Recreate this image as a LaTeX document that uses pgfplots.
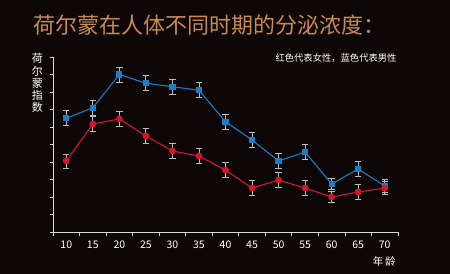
\documentclass[border=0pt]{standalone}
\usepackage{pgfplots}
\pgfplotsset{compat=1.18}
\usepackage{fontspec}
\setmainfont{Noto Sans CJK SC}
\definecolor{bg}{HTML}{0D0807}
\definecolor{titlecol}{HTML}{C98A4E}
\definecolor{axiscol}{HTML}{D8D8D8}
\definecolor{bluec}{HTML}{1E7CC4}
\definecolor{redc}{HTML}{D4152C}
\definecolor{errc}{HTML}{BDBDBD}
\begin{document}
\begin{tikzpicture}
\useasboundingbox (0,0) rectangle (450bp,274bp);
\fill[bg] (0,0) rectangle (450bp,274bp);
\begin{axis}[
  at={(53bp,42bp)}, anchor=south west,
  scale only axis, width=345bp, height=175bp,
  xmin=-0.5, xmax=12.5, ymin=0, ymax=10,
  axis lines=left, axis line style={axiscol, line width=0.8bp, -},
  xtick={0,...,12},
  xticklabels={10,15,20,25,30,35,40,45,50,55,60,65,70},
  major x tick style={draw=none},
  minor xtick={-0.5,0.5,...,12.5},
  minor x tick style={axiscol, line width=0.8bp},
  minor tick length=4bp,
  ytick={0,...,10}, yticklabels={},
  y tick style={axiscol, line width=0.8bp},
  major tick length=3bp,
  tick align=outside,
  /pgf/number format/assume math mode=true,
  xticklabel style={font=\fontsize{10.5bp}{12bp}\selectfont, text=white, yshift=-2bp},
  ylabel={荷\\尔\\蒙\\指\\数},
  ylabel style={at={(axis description cs:-0.045,1.04)}, anchor=north, rotate=-90, align=center, text=white, font=\fontsize{11bp}{12.3bp}\selectfont},
  xlabel={年\,龄},
  xlabel style={at={(axis description cs:0.96,-0.12)}, anchor=north, text=white, font=\fontsize{10.5bp}{12bp}\selectfont},
  clip=false,
]
\addplot[bluec, line width=1.1bp, mark=square*, mark size=2.6bp, mark options={fill=bluec, draw=bluec},
  error bars/.cd, y dir=both, y explicit,
  error bar style={errc, line width=0.8bp},
  error mark options={rotate=90, mark size=3.2bp, errc, line width=0.8bp}]
  table[x=x, y=y, y error=e] {
  x y e
  0 6.5 0.42
  1 7.1 0.42
  2 9.0 0.43
  3 8.5 0.42
  4 8.3 0.42
  5 8.1 0.42
  6 6.3 0.42
  7 5.26 0.42
  8 4.06 0.42
  9 4.57 0.42
  10 2.74 0.32
  11 3.6 0.42
  12 2.63 0.35
  };
\addplot[redc, line width=1.1bp, mark=*, mark size=2.8bp, mark options={fill=redc, draw=redc},
  error bars/.cd, y dir=both, y explicit,
  error bar style={errc, line width=0.8bp},
  error mark options={rotate=90, mark size=3.2bp, errc, line width=0.8bp}]
  table[x=x, y=y, y error=e] {
  x y e
  0 4.06 0.4
  1 6.17 0.42
  2 6.46 0.42
  3 5.49 0.42
  4 4.63 0.42
  5 4.34 0.42
  6 3.54 0.42
  7 2.51 0.42
  8 2.97 0.42
  9 2.51 0.42
  10 2.0 0.3
  11 2.29 0.42
  12 2.51 0.38
  };
\node[anchor=west, text=white, font=\fontsize{9.3bp}{11bp}\selectfont] at (axis description cs:0.635,0.994) {红色代表女性，蓝色代表男性};
\end{axis}
\node[anchor=west, text=titlecol, font=\fontsize{22bp}{25bp}\selectfont] at (30bp,249bp) {荷尔蒙在人体不同时期的分泌浓度：};
\end{tikzpicture}
\end{document}
